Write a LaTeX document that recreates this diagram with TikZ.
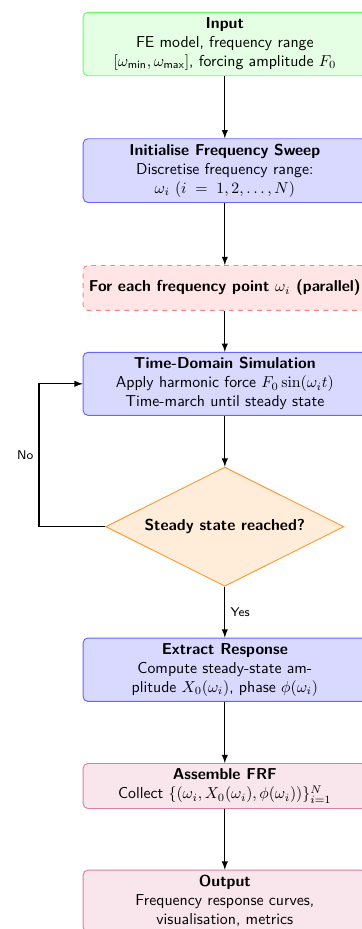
\documentclass[tikz,border=0pt]{standalone}
\usepackage{amsmath}
\usetikzlibrary{positioning,shapes.geometric}

\begin{document}
\begin{tikzpicture}[>=latex, font=\sffamily,
		box/.style = {rectangle, rounded corners=3pt, semithick, minimum width=6.3cm, minimum height=1cm, align=center},
		inbox/.style = {box, draw=green!60, fill=green!10},
		procbox/.style = {box, draw=blue!60, fill=blue!15},
		loopbox/.style = {box, dashed, draw=red!50, fill=red!10},
		outbox/.style = {box, draw=purple!50, fill=purple!10},
		decision/.style = {diamond, aspect=2, semithick, draw=orange!80, fill=orange!15, minimum width=5.3cm, minimum height=2.65cm, inner sep=0pt},
		line/.style = {thick, ->}]
		\useasboundingbox (0,0) rectangle (8.03,-20.66);
		\node [inbox] (input) at (5,-0.98) {\textbf{Input}\\ FE model, frequency range\\ $[\omega_{\text{min}},\omega_{\text{max}}]$, forcing amplitude $F_0$};
		\node [procbox, below = 1.38cm of input] (init) {\textbf{Initialise Frequency Sweep}\\ Discretise frequency range:\\ $\omega_i$ $(i \;=\; 1,2,\ldots,N)$};
		\node [loopbox, below = 1.38cm of init] (loop) {\textbf{For each frequency point $\omega_i$ (parallel)}};
		\node [procbox, below = 0.91cm of loop] (sim) {\textbf{Time-Domain Simulation}\\ Apply harmonic force $F_0\sin(\omega_i t)$\\ Time-march until steady state};
		\node [decision, below = 1.13cm of sim] (check) {\textbf{Steady state reached?}};
		\node [procbox, below = 1.13cm of check] (extract) {\textbf{Extract Response}\\ Compute steady-state am-\\plitude $X_0(\omega_i)$, phase $\phi(\omega_i)$};
		\node [outbox, below = 1.36cm of extract] (assemble) {\textbf{Assemble FRF}\\ Collect $\{(\omega_i, X_0(\omega_i), \phi(\omega_i))\}_{i=1}^{N}$};
		\node [outbox, below = 1.35cm of assemble] (output) {\textbf{Output}\\ Frequency response curves,\\ visualisation, metrics};
		\coordinate (back) at (0.87,0);
		\draw [line] (input) -- (init);
		\draw [line] (init) -- (loop);
		\draw [line] (loop) -- (sim);
		\draw [line] (sim) -- (check);
		\draw [line] (check) -- node [right, font=\sffamily\footnotesize] {Yes} (extract);
		\draw [line] (check.west) -- (check.west -| back) |- (sim.west) node [pos=0.25, left, font=\sffamily\footnotesize] {No};
		\draw [line] (extract) -- (assemble);
		\draw [line] (assemble) -- (output);
	\end{tikzpicture}
\end{document}
